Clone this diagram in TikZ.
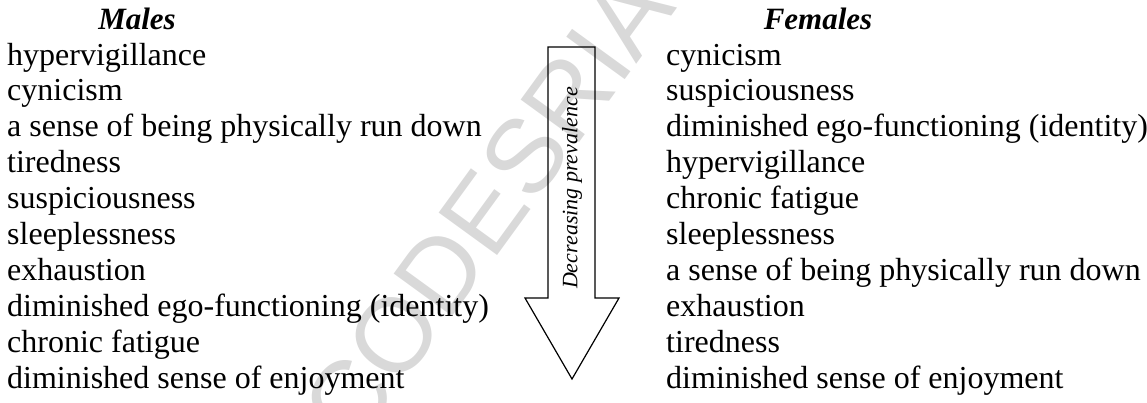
\documentclass[tikz,border=0pt]{standalone}
\usepackage{fontspec}
\setmainfont{Liberation Serif}
\newfontfamily\markfont{Liberation Sans}
\begin{document}
\begin{tikzpicture}[x=1pt,y=-1pt,
    item/.style={anchor=base west,inner sep=0pt,font=\fontsize{32}{36}\selectfont},
    head/.style={anchor=base,inner sep=0pt,font=\fontsize{31}{36}\selectfont\bfseries\itshape}]
    \useasboundingbox (0,0) rectangle (1147,402);
    % watermark
    \node[rotate=54,text=black!15,font=\fontsize{105}{105}\markfont] (mark) at (487,208) {CODESRIA};

    \node[head] (males) at (137,29) {Males};
    \node[head] (females) at (818,29) {Females};

    \foreach \t [count=\i] in {{hypervigillance},{cynicism},{a sense of being physically run down},{tiredness},{suspiciousness},{sleeplessness},{exhaustion},{diminished ego-functioning (identity)},{chronic fatigue},{diminished sense of enjoyment}}
        \node[item] (m\i) at (7,{65+35.9*(\i-1)}) {\t};

    \foreach \t [count=\i] in {{cynicism},{suspiciousness},{diminished ego-functioning (identity)},{hypervigillance},{chronic fatigue},{sleeplessness},{a sense of being physically run down},{exhaustion},{tiredness},{diminished sense of enjoyment}}
        \node[item] (f\i) at (666,{65+35.9*(\i-1)}) {\t};

    % arrow
    \draw[line width=1.2pt, line join=miter] (548,47) -- (595,47) -- (595,298) -- (619,298) -- (572,379) -- (525,298) -- (548,298) -- cycle;
    \node[rotate=90,inner sep=0pt,font=\fontsize{22}{22}\selectfont\itshape] (trend) at (572,188) {Decreasing prevalence};
\end{tikzpicture}
\end{document}
